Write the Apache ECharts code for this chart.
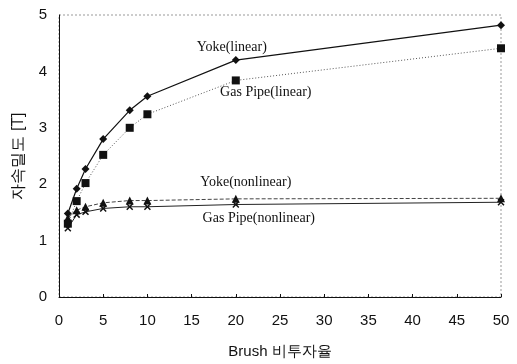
<!DOCTYPE html>
<html><head><meta charset="utf-8">
<script src="https://cdn.jsdelivr.net/npm/echarts@6/dist/echarts.min.js"></script>
<style>html,body{margin:0;padding:0;background:#fff}#c{width:517px;height:364px}</style>
</head><body><div id="c"></div>
<script>
const xValues = [1, 2, 3, 5, 8, 10, 20, 50];
const yokeLinear = [1.48, 1.92, 2.27, 2.80, 3.31, 3.56, 4.20, 4.82];
const gasPipeLinear = [1.30, 1.70, 2.02, 2.52, 3.00, 3.24, 3.84, 4.41];
const yokeNonlinear = [1.40, 1.54, 1.60, 1.67, 1.71, 1.71, 1.74, 1.75];
const gasPipeNonlinear = [1.22, 1.46, 1.51, 1.57, 1.60, 1.60, 1.64, 1.68];
const seriesNames = ['Yoke(linear)', 'Gas Pipe(linear)', 'Yoke(nonlinear)', 'Gas Pipe(nonlinear)'];
const xTitle = 'Brush 비투자율';
const yTitle = '자속밀도 [T]';
const labelIndex = 6;

const xMark = 'path://M0,1.5L1.5,0L5,3.5L8.5,0L10,1.5L6.5,5L10,8.5L8.5,10L5,6.5L1.5,10L0,8.5L3.5,5Z';
const labelStyles = [
  {offset: [-4, -13]},
  {offset: [30, 12]},
  {offset: [10, -17]},
  {offset: [23, 14]}
];
function mk(name, vals, idx, symbol, size, line) {
  return {
    name, type: 'line', symbol, symbolSize: size,
    lineStyle: line, itemStyle: {color: '#111'},
    data: vals.map((v, i) => {
      const d = {value: [xValues[i], v]};
      if (i === labelIndex) {
        d.label = {show: true, formatter: name, position: 'inside',
          offset: labelStyles[idx].offset,
          fontFamily: 'Liberation Serif', fontSize: 14, color: '#111'};
      }
      return d;
    }),
    z: 3
  };
}
const chart = echarts.init(document.getElementById('c'));
chart.setOption({
  animation: false,
  grid: {left: 59, right: 16, top: 15, bottom: 65, show: true, borderColor: '#999', borderWidth: 1, borderType: [2, 2]},
  xAxis: {
    type: 'value', min: 0, max: 50, interval: 5,
    name: xTitle, nameLocation: 'middle', nameGap: 47,
    nameTextStyle: {fontFamily: 'Liberation Sans', fontSize: 15, color: '#111'},
    axisLine: {lineStyle: {color: '#111', width: 1}},
    axisTick: {inside: true, length: 3, lineStyle: {color: '#111'}},
    axisLabel: {fontFamily: 'Liberation Sans', fontSize: 15, color: '#111', margin: 16},
    splitLine: {show: false}
  },
  yAxis: {
    type: 'value', min: 0, max: 5, interval: 1,
    name: yTitle, nameLocation: 'middle', nameGap: 32, nameRotate: 90,
    nameTextStyle: {fontFamily: 'Liberation Sans', fontSize: 16, color: '#111'},
    axisLine: {show: true, lineStyle: {color: '#111', width: 1}},
    axisTick: {show: false},
    axisLabel: {fontFamily: 'Liberation Sans', fontSize: 15, color: '#111', margin: 12},
    splitLine: {show: false}
  },
  series: [
    mk(seriesNames[0], yokeLinear, 0, 'diamond', 8, {color: '#111', width: 1.2}),
    mk(seriesNames[1], gasPipeLinear, 1, 'rect', 8, {color: '#555', width: 1, type: [1, 2]}),
    mk(seriesNames[2], yokeNonlinear, 2, 'triangle', 8, {color: '#444', width: 1, type: [4, 2]}),
    mk(seriesNames[3], gasPipeNonlinear, 3, xMark, 7, {color: '#222', width: 1})
  ]
});
</script></body></html>
